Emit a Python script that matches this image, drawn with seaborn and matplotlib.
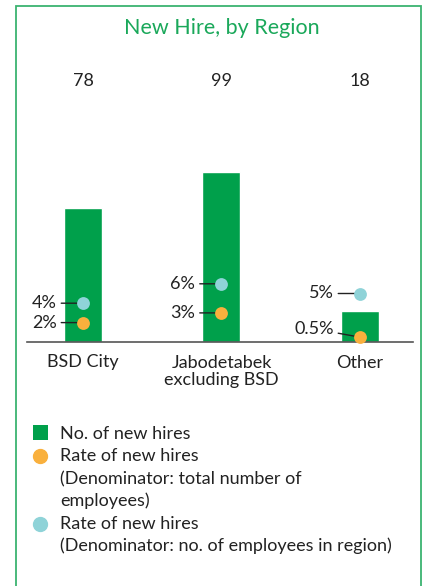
import matplotlib
matplotlib.use("Agg")
import matplotlib.pyplot as plt
import seaborn as sns
import pandas as pd
from matplotlib.patches import Rectangle
from matplotlib.lines import Line2D

regions = ["BSD City", "Jabodetabek\nexcluding BSD", "Other"]
new_hires = [78, 99, 18]
rate_total = [2, 3, 0.5]        # % of total employees
rate_region = [4, 6, 5]         # % of employees in region
rate_total_lbl = ["2%", "3%", "0.5%"]
rate_region_lbl = ["4%", "6%", "5%"]

GREEN = "#00a04b"
ORANGE = "#f9b03d"
TEAL = "#8fd3d8"
TITLE_GREEN = "#1aa85a"
W, H = 424, 586
FS = 13

sns.set_theme(style="white")
plt.rcParams["font.family"] = ["Lato", "DejaVu Sans"]

fig = plt.figure(figsize=(W / 100, H / 100), dpi=100)

def fx(px):
    return px / W

def fy(py):
    return 1 - py / H

# main axes: baseline at y=342 px, top at y=60 px, x from 27 to 413 px
ax = fig.add_axes([fx(27), fy(342), fx(413 - 27), (342 - 60) / H])
df = pd.DataFrame({"region": regions, "hires": new_hires})
sns.barplot(data=df, x="region", y="hires", color=GREEN, saturation=1,
            width=0.275, ax=ax)
ax.set_xlim(-0.404, 2.383)
ax.set_ylim(0, 282 / 1.718)
ax.set_yticks([])
ax.set_xlabel("")
ax.set_ylabel("")
for s in ["top", "left", "right"]:
    ax.spines[s].set_visible(False)
ax.spines["bottom"].set_color("#555555")
ax.spines["bottom"].set_linewidth(1.2)
ax.tick_params(axis="x", length=0, pad=9, labelsize=FS, labelcolor="#222222")
for lab in ax.get_xticklabels():
    lab.set_linespacing(1.1)
for i, v in enumerate(new_hires):
    ax.text(i, (342 - 81) / 1.718, str(v), ha="center", va="center",
            fontsize=FS, color="#222222")

# rates on a second scale
ax2 = ax.twinx()
ax2.set_ylim(0, 282 / 9.7)
ax2.set_yticks([])
for s in ["top", "left", "right", "bottom"]:
    ax2.spines[s].set_visible(False)
xs = list(range(len(regions)))
sns.scatterplot(x=xs, y=rate_region, color=TEAL, s=85, linewidth=0,
                ax=ax2, zorder=5, clip_on=False)
sns.scatterplot(x=xs, y=rate_total, color=ORANGE, s=85, linewidth=0,
                ax=ax2, zorder=5, clip_on=False)

def tag(x, y, lbl, dy=0):
    ax2.annotate(lbl, xy=(x, y), xytext=(-19, dy), textcoords="offset points",
                 ha="right", va="center", fontsize=FS, color="#222222",
                 arrowprops=dict(arrowstyle="-", color="#222222", lw=1,
                                 shrinkA=1, shrinkB=0))

for i in xs:
    tag(i, rate_region[i], rate_region_lbl[i])
    tag(i, rate_total[i], rate_total_lbl[i], dy=6 if rate_total[i] < 1 else 0)

fig.text(fx(222), fy(28), "New Hire, by Region", ha="center", va="center",
         fontsize=15.5, color=TITLE_GREEN)

# border
fig.add_artist(Rectangle((fx(16), fy(620)), fx(421 - 16), (620 - 6) / H,
                         transform=fig.transFigure, fill=False,
                         edgecolor="#3cb371", lw=1.3))

# legend
fig.add_artist(Rectangle((fx(33), fy(440)), fx(15), 15 / H,
                         transform=fig.transFigure, color=GREEN, lw=0))
fig.add_artist(Line2D([fx(40)], [fy(456)], marker="o", markersize=10,
                      color=ORANGE, transform=fig.transFigure, lw=0))
fig.add_artist(Line2D([fx(40)], [fy(524)], marker="o", markersize=10,
                      color=TEAL, transform=fig.transFigure, lw=0))
legend_lines = [
    (434, "No. of new hires"),
    (456, "Rate of new hires"),
    (479, "(Denominator: total number of"),
    (501, "employees)"),
    (524, "Rate of new hires"),
    (546, "(Denominator: no. of employees in region)"),
]
for py, txt in legend_lines:
    fig.text(fx(60), fy(py), txt, ha="left", va="center", fontsize=FS,
             color="#222222")

fig.savefig("out.png", dpi=100)
